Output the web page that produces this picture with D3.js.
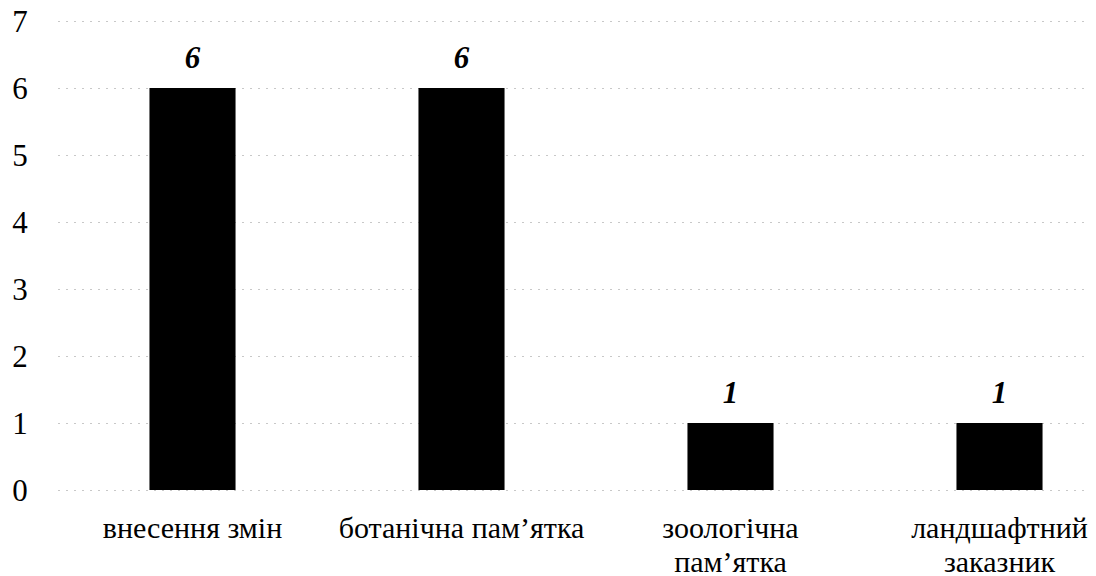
<!DOCTYPE html>
<html>
<head>
<meta charset="utf-8">
<script src="https://cdn.jsdelivr.net/npm/d3@7"></script>
<style>
  body { margin: 0; background: #fff; }
  .grid line { stroke: #c8c8c8; stroke-dasharray: 2,6; stroke-width: 1; }
  .grid path { display: none; }
</style>
</head>
<body>
<div class="chart"></div>
<script>
// data
const categories = [["внесення змін"], ["ботанічна пам\u2019ятка"], ["зоологічна", "пам\u2019ятка"], ["ландшафтний", "заказник"]];
const values = [6, 6, 1, 1];
const yTicks = [0, 1, 2, 3, 4, 5, 6, 7];

const fontFamily = "'Liberation Serif', 'Times New Roman', Tinos";
const svgWidth = 1096, svgHeight = 576;
const margin = { top: 21, left: 58, bottom: 86 };
const height = svgHeight - margin.top - margin.bottom;

const svg = d3.select(".chart").append("svg")
  .attr("width", svgWidth)
  .attr("height", svgHeight);

const g = svg.append("g")
  .attr("transform", "translate(" + margin.left + "," + margin.top + ")");

const x = d3.scaleBand()
  .domain(d3.range(categories.length))
  .range([0, 1076])
  .paddingInner(0.68)
  .paddingOuter(0.34);

const y = d3.scaleLinear().domain([0, 7]).range([height, 0]);

// gridlines
g.append("g")
  .attr("class", "grid")
  .call(d3.axisLeft(y).tickValues(yTicks).tickSize(-1032).tickFormat(""));

// y tick labels
g.selectAll(".ylab")
  .data(yTicks)
  .enter().append("text")
  .attr("class", "ylab")
  .attr("x", -38)
  .attr("y", d => y(d))
  .attr("dy", "0.35em")
  .attr("text-anchor", "middle")
  .attr("font-size", 31)
  .style("font-family", fontFamily)
  .text(d => d);

// bars
g.selectAll(".bar")
  .data(values)
  .enter().append("rect")
  .attr("class", "bar")
  .attr("x", (d, i) => x(i))
  .attr("y", d => y(d))
  .attr("width", x.bandwidth())
  .attr("height", d => height - y(d))
  .attr("fill", "#000");

// value labels
g.selectAll(".val")
  .data(values)
  .enter().append("text")
  .attr("class", "val")
  .attr("x", (d, i) => x(i) + x.bandwidth() / 2)
  .attr("y", d => y(d) - 20)
  .attr("text-anchor", "middle")
  .attr("font-size", 31)
  .attr("font-weight", "bold")
  .attr("font-style", "italic")
  .style("font-family", fontFamily)
  .text(d => d);

// category labels
const cat = g.selectAll(".cat")
  .data(categories)
  .enter().append("text")
  .attr("class", "cat")
  .attr("text-anchor", "middle")
  .attr("font-size", 30)
  .style("font-family", fontFamily)
  .attr("transform", (d, i) => "translate(" + (x(i) + x.bandwidth() / 2) + "," + (height + 48) + ")");

cat.selectAll("tspan")
  .data(d => d)
  .enter().append("tspan")
  .attr("x", 0)
  .attr("dy", (d, i) => i === 0 ? 0 : 34)
  .text(d => d);
</script>
</body>
</html>
